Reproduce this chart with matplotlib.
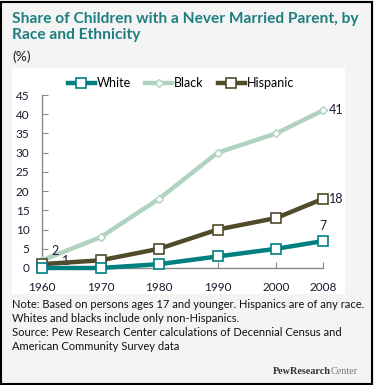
import matplotlib
matplotlib.use("Agg")
import matplotlib.pyplot as plt
from matplotlib.patches import Rectangle

years = [1960, 1970, 1980, 1990, 2000, 2008]
white = [0, 0, 1, 3, 5, 7]
black = [2, 8, 18, 30, 35, 41]
hispanic = [1, 2, 5, 10, 13, 18]
yticks = [0, 5, 10, 15, 20, 25, 30, 35, 40, 45]

title = "Share of Children with a Never Married Parent, by\nRace and Ethnicity"
note = ("Note: Based on persons ages 17 and younger. Hispanics are of any race.\n"
        "Whites and blacks include only non-Hispanics.\n"
        "Source: Pew Research Center calculations of Decennial Census and\n"
        "American Community Survey data")

c_white = "#00807f"
c_black = "#b0d3c0"
c_hisp = "#4f4b2b"
teal_title = "#1d7f80"

plt.rcParams["font.family"] = ["Lato", "DejaVu Sans"]

W, H = 374, 385
fig = plt.figure(figsize=(W / 100, H / 100), dpi=100)
fig.patch.set_facecolor("#f4f4f4")

# border
fig.patches.append(Rectangle((1 / W, 1 / H), 1 - 3 / W, 1 - 3 / H, transform=fig.transFigure,
                             fill=False, edgecolor="black", linewidth=1.5, zorder=10))
# white panel
fig.patches.append(Rectangle((12 / W, 1 - 294 / H), (345 - 12) / W, (294 - 68) / H,
                             transform=fig.transFigure, facecolor="white", edgecolor="none",
                             zorder=-5))

fig.text(12 / W, 1 - 12 / H, title, color=teal_title, fontsize=11.2, fontweight="bold",
         va="top", ha="left", linespacing=1.15)
fig.text(12 / W, 1 - 57 / H, "(%)", fontsize=10, va="center", ha="left", color="#222222")

ax = fig.add_axes([42 / W, 1 - 268 / H, (323 - 42) / W, (268 - 95) / H])
ax.set_facecolor("none")
ax.set_xlim(1960, 2008)
ax.set_ylim(0, 45)

lw = 3.2
ax.plot(years, black, color=c_black, lw=lw, marker="D", ms=4.5, mfc="white", mec=c_black,
        mew=1, clip_on=False, zorder=3, label="Black")
ax.plot(years, hispanic, color=c_hisp, lw=lw, marker="s", ms=7, mfc="white", mec=c_hisp,
        mew=1.2, clip_on=False, zorder=4, label="Hispanic")
ax.plot(years, white, color=c_white, lw=lw, marker="s", ms=7, mfc="white", mec=c_white,
        mew=1.2, clip_on=False, zorder=5, label="White")

for s in ["top", "right"]:
    ax.spines[s].set_visible(False)
for s in ["left", "bottom"]:
    ax.spines[s].set_color("#888888")
    ax.spines[s].set_linewidth(1)

ax.set_xticks(years)
ax.set_xticklabels([str(y) for y in years])
ax.set_yticks(yticks)
ax.tick_params(axis="both", direction="in", length=4, color="#888888", labelsize=8.5,
               labelcolor="#1a1a2e")
ax.tick_params(axis="x", pad=10)
ax.tick_params(axis="y", pad=9)

# data labels
lab_col = "#1a1a3a"
fs_lab = 9
ax.annotate("2", (years[0], black[0]), xytext=(13, 9), textcoords="offset pixels",
            fontsize=fs_lab, color=lab_col, ha="center", va="center")
ax.annotate("1", (years[0], hispanic[0]), xytext=(24, 3), textcoords="offset pixels",
            fontsize=fs_lab, color=lab_col, ha="center", va="center")
ax.annotate("41", (years[-1], black[-1]), xytext=(13, 0), textcoords="offset pixels",
            fontsize=fs_lab, color=lab_col, ha="center", va="center")
ax.annotate("18", (years[-1], hispanic[-1]), xytext=(13, 0), textcoords="offset pixels",
            fontsize=fs_lab, color=lab_col, ha="center", va="center")
ax.annotate("7", (years[-1], white[-1]), xytext=(0, 15), textcoords="offset pixels",
            fontsize=fs_lab, color=lab_col, ha="center", va="center")

handles, labels = ax.get_legend_handles_labels()
order = [2, 0, 1]
leg = fig.legend([handles[i] for i in order], [labels[i] for i in order],
                 loc="center", bbox_to_anchor=(181 / W, 1 - 83 / H), ncol=3, frameon=False,
                 fontsize=9, handlelength=2.2, handletextpad=0.15, columnspacing=1.1)

fig.text(12 / W, 1 - 299 / H, note, fontsize=8, va="top", ha="left", color="#111111",
         linespacing=1.32)

t1 = fig.text(273 / W, 1 - 371 / H, "PewResearch", fontsize=7.3, family="Liberation Serif",
              fontweight="bold", color="#333333", va="center", ha="left")
fig.canvas.draw()
bb = t1.get_window_extent()
fig.text(bb.x1 / W, 1 - 371 / H, "Center", fontsize=7.3, family="Liberation Serif",
         color="#777777", va="center", ha="left")

fig.savefig("out.png", dpi=100, facecolor=fig.get_facecolor())
